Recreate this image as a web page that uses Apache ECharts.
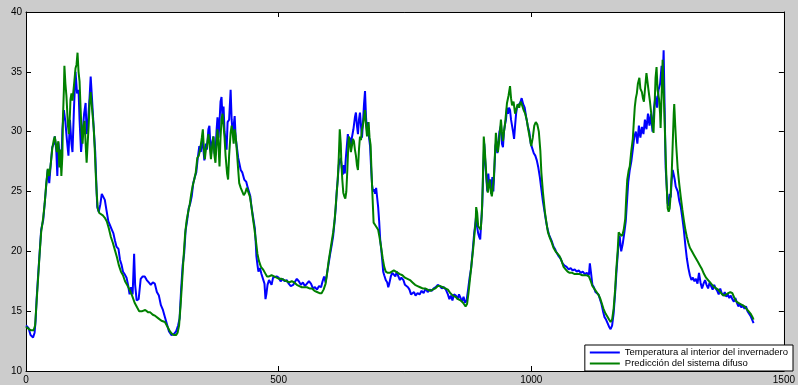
<!DOCTYPE html>
<html>
<head>
<meta charset="utf-8">
<script src="https://cdn.jsdelivr.net/npm/echarts@6/dist/echarts.min.js"></script>
<style>
  html, body { margin: 0; padding: 0; background: #cccccc; }
  #main { width: 798px; height: 385px; }
</style>
</head>
<body>
<div id="main"></div>
<script>
// ticks
const xTicks = [0, 500, 1000, 1500];
const yTicks = [10, 15, 20, 25, 30, 35, 40];
const seriesNames = ['Temperatura al interior del invernadero', 'Predicción del sistema difuso'];

// temperatura medida [muestra, °C]
const tempInterior = [
  [0,13.8],[5,13.6],[9,13.0],[14,12.8],[17,13.2],[19,14.2],[21,16.0],[24,18.0],[27,19.9],[30,21.8],[34,22.6],[37,24.0],[40,25.5],[43,26.8],[46,25.7],[49,27.3],[52,28.7],[55,29.0],[57,29.6],[60,28.4],[62,26.3],[64,29.1],[67,28.0],[70,27.2],[72,30.2],[75,31.8],[78,30.8],[81,29.3],[84,28.0],[87,31.0],[90,29.0],[92,28.3],[95,32.0],[98,35.0],[101,33.2],[104,33.5],[106,31.0],[109,28.3],[112,28.4],[115,31.5],[118,32.4],[120,29.8],[123,31.0],[126,33.0],[128,34.6],[131,32.5],[134,30.3],[137,28.3],[139,25.9],[141,23.7],[144,23.3],[147,23.9],[150,24.8],[153,24.9],[156,24.3],[159,23.5],[163,22.5],[166,22.2],[170,21.8],[173,21.5],[176,20.9],[179,20.4],[183,20.2],[186,19.3],[189,18.9],[192,18.3],[195,18.1],[199,17.8],[202,17.2],[205,16.4],[208,17.0],[211,16.4],[214,19.8],[216,17.2],[219,15.9],[223,16.0],[227,17.7],[231,17.9],[235,17.9],[239,17.6],[243,17.4],[247,17.2],[251,17.4],[255,17.3],[259,16.6],[263,16.3],[267,15.5],[271,15.1],[275,14.5],[279,13.9],[283,13.3],[288,13.0],[293,13.1],[297,13.3],[301,13.8],[304,14.4],[307,16.8],[310,18.8],[313,19.8],[316,21.8],[319,22.6],[322,23.6],[325,24.0],[328,24.6],[331,25.7],
  [334,26.2],[337,26.6],[340,27.8],[343,28.8],[346,28.3],[349,29.5],[351,28.6],[353,27.6],[356,29.0],[358,28.5],[361,30.2],[363,30.5],[366,28.0],[368,29.0],[371,29.6],[373,28.2],[375,28.0],[377,30.0],[379,31.2],[381,29.5],[383,30.8],[385,32.5],[387,32.9],[389,31.0],[391,32.1],[393,30.0],[395,29.3],[397,28.5],[399,30.8],[402,31.0],[405,33.5],[407,31.0],[409,29.9],[411,30.5],[413,31.3],[415,29.5],[418,28.5],[420,27.8],[422,27.4],[425,26.8],[428,26.6],[432,26.0],[436,25.8],[439,25.3],[441,25.2],[444,24.6],[446,23.8],[450,22.7],[453,21.9],[455,20.5],[456,19.6],[458,18.9],[460,18.3],[463,18.6],[466,18.1],[469,18.0],[472,17.3],[474,16.0],[476,16.5],[478,17.2],[481,17.6],[483,17.7],[486,17.2],[489,17.8],[492,17.7],[496,17.9],[500,17.8],[504,17.5],[508,17.7],[512,17.5],[516,17.6],[520,17.3],[524,17.1],[529,17.2],[533,17.5],[536,17.7],[540,17.5],[544,17.2],[548,17.4],[552,17.1],[556,17.3],[560,17.5],[564,17.3],[568,16.9],[572,17.0],[576,16.8],[580,17.1],[584,17.0],[587,17.5],[590,17.9],[593,17.4],[596,18.2],
  [599,19.0],[602,19.8],[605,20.5],[608,21.3],[611,22.6],[613,23.6],[615,25.0],[617,26.0],[619,27.2],[621,27.6],[623,27.8],[625,27.0],[627,26.4],[629,27.2],[631,26.5],[633,27.8],[635,28.8],[637,29.8],[639,29.0],[641,29.5],[643,28.8],[645,29.5],[648,30.2],[651,31.2],[653,31.6],[655,30.5],[657,29.8],[659,31.0],[661,31.6],[663,30.5],[665,29.5],[667,30.8],[669,32.3],[671,33.4],[673,31.2],[675,30.0],[677,30.8],[679,29.5],[681,28.8],[683,27.0],[685,25.5],[687,25.0],[689,25.2],[691,24.8],[693,25.3],[695,24.5],[697,23.7],[699,22.5],[701,21.0],[703,20.2],[705,19.3],[707,18.3],[709,18.0],[712,17.6],[715,17.4],[717,17.0],[719,17.3],[722,17.9],[725,18.2],[728,18.3],[731,17.9],[734,18.3],[737,17.9],[740,17.6],[743,17.8],[747,17.6],[750,17.2],[753,17.3],[756,17.0],[759,16.8],[762,16.4],[765,16.3],[768,16.6],[771,16.3],[775,16.5],[779,16.4],[783,16.7],[787,16.5],[791,16.9],[795,16.6],[799,16.8],[803,16.7],[807,16.9],[811,17.0],[815,17.2],[819,17.1],[823,16.9],[827,17.0],[831,16.8],[835,16.4],[838,16.0],[841,16.3],[844,15.9],[847,16.4],[851,16.3],[854,16.0],[857,16.4],[860,16.1],[863,15.8],[866,16.2],[869,15.7],[872,15.9],
  [875,16.8],[878,17.8],[881,18.6],[884,20.0],[887,21.5],[889,22.2],[891,23.0],[893,22.0],[895,21.5],[897,21.2],[899,21.0],[901,22.5],[903,23.8],[905,27.0],[907,29.0],[909,27.5],[911,26.2],[913,25.0],[915,26.5],[917,25.5],[919,26.0],[921,24.8],[923,26.2],[925,25.0],[927,26.8],[929,28.8],[931,29.2],[933,28.2],[935,29.0],[937,30.0],[940,30.5],[942,29.0],[944,28.7],[946,30.0],[948,30.6],[950,31.0],[952,32.0],[954,31.5],[956,32.0],[958,31.8],[960,31.0],[962,30.5],[964,30.0],[966,29.4],[968,30.5],[970,31.5],[972,32.1],[975,32.0],[978,32.4],[981,32.8],[984,32.3],[987,32.0],[990,31.2],[993,30.5],[996,30.0],[999,29.0],[1002,28.6],[1005,28.2],[1008,28.0],[1011,27.6],[1014,27.0],[1017,26.2],[1020,25.2],[1023,24.2],[1026,23.4],[1029,22.6],[1032,21.9],[1035,21.4],[1038,21.1],[1041,20.8],[1044,20.4],[1047,20.2],[1050,19.9],[1054,19.6],[1058,19.4],[1062,19.0],[1066,18.8],[1070,18.7],[1074,18.5],[1078,18.6],[1082,18.4],[1086,18.5],[1090,18.3],[1094,18.4],[1098,18.2],[1102,18.3],[1106,18.1],[1110,18.2],[1114,18.0],[1116,19.0],[1118,18.3],[1121,17.2],[1124,17.0],[1127,16.6],[1130,16.7],[1133,16.4],[1136,16.0],[1139,15.6],[1142,15.0],[1145,14.5],[1148,14.3],[1151,14.0],[1154,13.7],[1157,13.5],[1160,13.8],
  [1163,14.8],[1166,16.5],[1169,18.5],[1172,20.2],[1175,21.3],[1178,20.0],[1181,20.6],[1184,21.5],[1187,22.5],[1190,24.5],[1192,25.8],[1195,26.8],[1198,27.5],[1201,28.5],[1204,29.6],[1207,30.0],[1210,29.0],[1213,30.5],[1216,29.5],[1219,30.4],[1222,29.8],[1225,31.0],[1228,30.2],[1231,31.5],[1234,30.5],[1237,31.5],[1240,30.0],[1243,32.0],[1246,33.0],[1249,32.0],[1252,33.5],[1255,34.0],[1258,35.5],[1260,34.0],[1262,36.8],[1264,32.0],[1266,27.0],[1268,25.5],[1270,24.0],[1272,23.8],[1274,24.8],[1276,24.5],[1278,26.0],[1280,26.8],[1282,26.4],[1284,26.0],[1286,25.4],[1288,25.3],[1290,25.0],[1293,24.2],[1296,23.7],[1299,22.8],[1302,21.8],[1305,20.5],[1308,19.4],[1311,18.6],[1314,18.0],[1317,17.6],[1320,17.8],[1323,17.5],[1326,17.7],[1329,17.3],[1332,18.2],[1335,17.4],[1338,16.9],[1341,17.3],[1344,17.6],[1347,17.2],[1350,16.9],[1353,17.4],[1356,17.1],[1359,16.8],[1362,17.2],[1365,16.9],[1368,16.7],[1371,16.4],[1374,16.9],[1377,16.5],[1380,16.3],[1383,16.6],[1386,16.2],[1389,16.4],[1392,16.1],[1395,16.3],[1398,16.0],[1401,15.8],[1404,16.1],[1407,15.7],[1410,15.4],[1413,15.6],[1416,15.3],[1419,15.5],[1422,15.2],[1425,15.4],[1428,15.0],[1431,15.1],[1434,14.6],[1437,14.5],[1440,14.0]
];

// salida del modelo difuso [muestra, °C]
const predDifuso = [
  [0,13.7],[6,13.5],[10,13.4],[15,13.4],[18,13.8],[21,15.8],[24,17.8],[27,19.8],[30,21.6],[34,22.8],[37,24.0],[40,25.6],[43,26.9],[46,26.3],[49,27.3],[52,28.6],[55,29.3],[57,29.6],[59,29.0],[61,28.3],[64,29.2],[66,27.0],[68,28.5],[70,26.3],[72,28.0],[73,31.0],[75,33.5],[76,35.5],[78,34.0],[80,33.0],[81,32.2],[83,30.5],[85,29.8],[87,31.5],[88,32.7],[90,33.2],[92,32.6],[95,33.9],[98,35.3],[100,35.6],[102,36.6],[104,35.0],[106,34.2],[108,32.0],[110,30.0],[112,29.0],[114,30.5],[116,30.9],[118,29.0],[120,27.4],[122,29.0],[124,30.5],[126,32.5],[128,33.3],[131,31.8],[134,30.3],[136,28.6],[138,26.5],[140,24.8],[142,23.6],[145,23.2],[148,23.1],[152,23.0],[156,22.8],[160,22.5],[164,21.9],[168,21.2],[172,20.7],[176,20.1],[180,19.5],[184,18.8],[188,18.3],[192,18.0],[196,17.5],[200,17.2],[205,16.8],[210,16.3],[215,15.7],[220,15.3],[224,15.0],[230,15.0],[236,15.1],[242,14.9],[246,14.9],[251,14.7],[256,14.6],[262,14.4],[268,14.2],[275,14.1],[280,13.7],[285,13.3],[289,13.1],[293,13.0],[297,13.0],[300,13.2],[303,13.8],[306,15.5],[309,17.5],[312,19.6],[315,21.5],[318,22.6],[321,23.3],[324,23.9],[327,24.8],[330,25.5],
  [333,26.0],[336,26.6],[339,27.8],[342,28.0],[345,28.6],[348,29.5],[350,30.2],[352,28.6],[354,27.7],[356,28.5],[358,28.8],[361,29.8],[363,29.9],[365,28.2],[366,27.7],[369,29.0],[371,29.6],[373,28.0],[375,27.4],[377,29.0],[379,30.2],[381,28.8],[383,27.1],[385,29.5],[387,31.0],[389,31.5],[391,30.5],[393,29.5],[395,28.0],[398,26.5],[400,26.0],[402,28.0],[405,29.9],[407,30.5],[409,29.9],[411,29.0],[413,30.2],[415,29.6],[418,28.0],[420,26.8],[422,25.7],[425,25.3],[428,25.2],[431,24.7],[434,24.9],[437,25.3],[440,25.2],[443,24.6],[446,23.8],[449,22.8],[452,21.9],[455,20.9],[458,19.8],[461,19.2],[465,18.7],[469,18.5],[473,18.2],[477,17.9],[481,17.9],[486,18.0],[491,17.9],[496,17.8],[501,17.7],[506,17.7],[511,17.6],[516,17.5],[521,17.4],[526,17.5],[531,17.4],[536,17.2],[541,17.1],[546,17.0],[551,17.0],[556,17.0],[561,16.9],[566,16.9],[571,16.7],[576,16.6],[581,16.5],[585,16.5],[589,16.8],[593,17.3],[596,18.2],
  [599,19.2],[602,20.0],[605,20.8],[608,21.6],[611,22.7],[613,23.8],[615,24.9],[617,26.0],[619,27.8],[621,30.2],[623,29.0],[624,27.6],[626,26.0],[628,24.9],[630,24.6],[632,24.4],[634,25.0],[636,26.8],[638,29.0],[639,29.6],[641,29.0],[643,28.3],[645,28.8],[647,29.4],[649,29.2],[651,28.5],[653,28.0],[655,27.2],[657,26.8],[659,28.5],[661,29.6],[663,29.3],[665,30.2],[667,30.6],[669,31.2],[671,31.8],[673,30.5],[675,29.6],[677,30.2],[678,30.8],[680,29.5],[682,28.9],[684,26.5],[686,24.4],[688,22.4],[691,22.2],[694,22.1],[697,21.8],[700,21.1],[703,20.3],[706,19.4],[709,18.7],[712,18.3],[716,18.2],[720,18.2],[724,18.3],[728,18.4],[732,18.3],[736,18.2],[740,18.1],[745,18.0],[750,17.8],[755,17.7],[760,17.6],[765,17.4],[770,17.2],[775,17.1],[780,17.0],[785,16.9],[790,16.9],[795,16.8],[800,16.7],[805,16.8],[810,16.9],[815,17.1],[820,17.1],[825,17.0],[830,16.9],[835,16.8],[840,16.5],[845,16.3],[850,16.2],[855,16.0],[860,15.9],[865,15.7],[870,15.4],
  [873,15.6],[876,16.6],[879,17.8],[882,19.0],[885,20.2],[888,21.6],[890,22.5],[891,23.7],[893,23.2],[895,22.1],[898,22.0],[900,21.8],[902,23.0],[904,25.5],[906,29.6],[908,28.5],[910,27.1],[912,25.8],[914,24.9],[916,25.5],[918,26.0],[920,25.0],[922,24.6],[924,25.3],[926,26.2],[928,28.0],[930,29.9],[932,29.0],[934,28.3],[936,29.0],[938,30.0],[940,31.0],[942,30.0],[944,29.2],[946,30.0],[948,30.6],[950,31.5],[952,32.4],[955,33.0],[958,33.8],[960,32.8],[962,32.2],[965,32.5],[968,31.5],[970,31.8],[973,32.3],[976,32.0],[979,32.5],[982,32.2],[985,31.8],[988,31.5],[991,31.0],[994,30.2],[997,29.5],[1000,28.8],[1003,29.5],[1006,30.5],[1009,30.8],[1012,30.6],[1015,30.0],[1018,28.4],[1020,26.6],[1023,25.0],[1027,23.3],[1030,22.4],[1033,21.6],[1037,21.1],[1040,20.8],[1044,20.3],[1048,20.0],[1052,19.8],[1056,19.6],[1060,19.2],[1064,18.7],[1068,18.5],[1072,18.3],[1076,18.2],[1081,18.2],[1086,18.1],[1091,18.1],[1096,18.1],[1101,18.0],[1106,18.0],[1110,18.0],[1114,17.9],[1117,17.6],[1121,17.1],[1126,16.8],[1131,16.5],[1134,16.3],[1137,16.0],[1140,15.6],[1143,15.2],[1147,14.8],[1150,14.6],[1154,14.3],[1157,14.1],[1160,14.3],
  [1163,15.2],[1166,16.8],[1168,18.3],[1171,20.0],[1173,21.6],[1176,21.4],[1180,21.3],[1183,21.8],[1186,22.7],[1188,24.5],[1190,26.0],[1193,26.8],[1195,27.1],[1198,28.4],[1201,29.4],[1203,30.8],[1205,32.1],[1207,32.8],[1209,33.2],[1211,34.0],[1214,34.5],[1216,33.6],[1219,33.3],[1221,32.8],[1223,32.5],[1225,33.5],[1228,34.9],[1230,34.2],[1232,33.5],[1235,32.5],[1238,31.3],[1240,30.5],[1242,29.9],[1244,32.0],[1246,34.5],[1248,35.4],[1250,33.5],[1253,32.7],[1255,31.5],[1256,30.3],[1258,33.0],[1260,36.0],[1262,33.5],[1264,30.8],[1266,28.0],[1268,25.5],[1270,23.6],[1272,23.3],[1274,23.6],[1276,24.8],[1278,26.5],[1280,29.0],[1282,31.5],[1283,32.3],[1285,30.5],[1287,28.8],[1290,26.8],[1293,25.6],[1296,24.5],[1299,23.5],[1302,22.6],[1305,21.8],[1308,21.2],[1311,20.7],[1314,20.3],[1318,20.0],[1322,19.7],[1326,19.4],[1330,19.1],[1334,18.8],[1338,18.5],[1342,18.1],[1346,17.8],[1350,17.6],[1354,17.4],[1358,17.2],[1362,17.0],[1366,16.9],[1370,16.8],[1374,16.6],[1378,16.4],[1382,16.3],[1386,16.4],[1390,16.5],[1394,16.6],[1398,16.5],[1402,16.1],[1406,15.8],[1410,15.7],[1414,15.6],[1418,15.5],[1422,15.4],[1426,15.2],[1430,15.0],[1434,14.8],[1438,14.5],[1440,14.3]
];

const font = 'Liberation Sans, Arial, sans-serif';
const myChart = echarts.init(document.getElementById('main'));

// eje con ticks hacia dentro, como en matlab
function axisBase(min, max, step, pos, labels) {
  return {
    type: 'value', min: min, max: max, interval: step, position: pos,
    axisLine: { show: true, onZero: false, lineStyle: { color: '#000', width: 1 } },
    axisTick: { show: true, inside: true, length: 5, lineStyle: { color: '#000' } },
    axisLabel: {
      show: labels, color: '#000', fontFamily: font, fontSize: 10, margin: 4,
      formatter: function (v) { return String(v); }
    },
    splitLine: { show: false }
  };
}

myChart.setOption({
  animation: false,
  backgroundColor: '#cccccc',
  grid: { left: 26, right: 4, top: 12, bottom: 12, show: true, backgroundColor: '#fff', borderWidth: 0 },
  xAxis: [
    axisBase(xTicks[0], xTicks[xTicks.length - 1], 500, 'bottom', true),
    axisBase(xTicks[0], xTicks[xTicks.length - 1], 500, 'top', false)
  ],
  yAxis: [
    axisBase(yTicks[0], yTicks[yTicks.length - 1], 5, 'left', true),
    axisBase(yTicks[0], yTicks[yTicks.length - 1], 5, 'right', false)
  ],
  legend: {
    orient: 'vertical',
    right: 5,
    bottom: 14,
    icon: 'rect',
    itemWidth: 30,
    itemHeight: 2,
    itemGap: 0,
    padding: [2, 5, 2, 5],
    backgroundColor: '#fff',
    borderColor: '#000',
    borderWidth: 1,
    borderRadius: 0,
    textStyle: { fontFamily: font, fontSize: 9.5, color: '#000', lineHeight: 11 },
    data: seriesNames
  },
  series: [
    {
      name: seriesNames[0],
      type: 'line',
      data: tempInterior,
      showSymbol: false,
      color: '#0000ff',
      lineStyle: { width: 2, color: '#0000ff' }
    },
    {
      name: seriesNames[1],
      type: 'line',
      data: predDifuso,
      showSymbol: false,
      color: '#008000',
      lineStyle: { width: 2, color: '#008000' }
    }
  ]
});
</script>
</body>
</html>
